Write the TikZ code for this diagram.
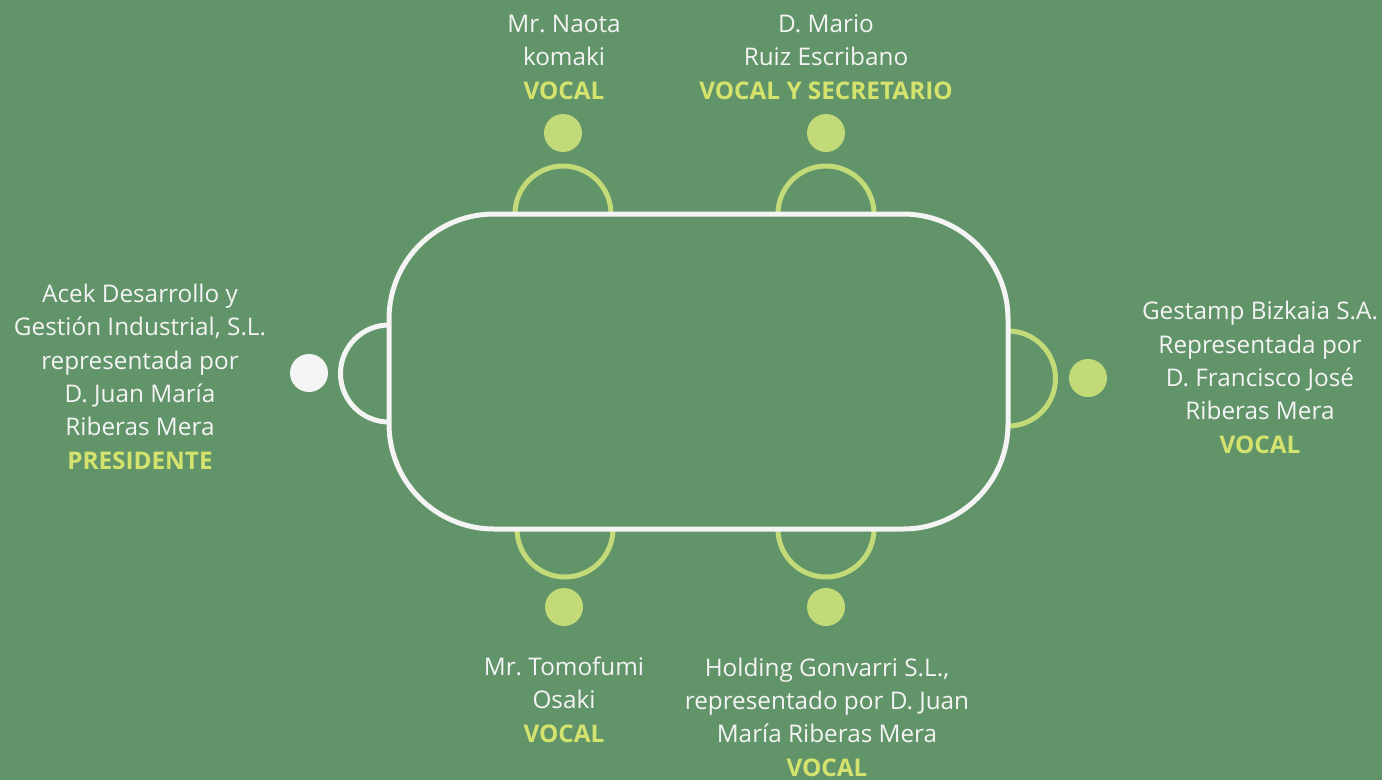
\documentclass[tikz,border=0pt]{standalone}
\usepackage{fontspec}
\setmainfont{Open Sans}
\frenchspacing
\definecolor{bg}{HTML}{62946A}
\definecolor{chair}{HTML}{C2DA78}
\definecolor{role}{HTML}{D4E36D}
\definecolor{wht}{HTML}{F4F4F4}
\tikzset{
  tablebox/.style={draw=wht, line width=5pt, rounded corners=105pt, minimum width=619pt, minimum height=315pt, inner sep=0pt},
  chairarc/.style={draw=chair, line width=5pt},
  headdot/.style={circle, fill=chair, minimum size=38pt, inner sep=0pt},
  label/.style={text=wht, align=center, anchor=base, inner sep=0pt, font=\fontsize{24.3}{33.3}\selectfont},
}
\newcommand{\rolename}[1]{\textcolor{role}{\bfseries #1}}
\begin{document}
\begin{tikzpicture}[x=1pt,y=-1pt]
\fill[bg] (0,0) rectangle (1382,780);
\useasboundingbox (0,0) rectangle (1382,780);
% chairs
\draw[chairarc] (515,214) arc (180:360:48);
\draw[chairarc] (778,214) arc (180:360:48);
\draw[chairarc] (517,529) arc (180:0:48);
\draw[chairarc] (778,529) arc (180:0:48);
\draw[chairarc, draw=wht] (389,325) arc (270:90:48.5);
\draw[chairarc] (1008,331) arc (-90:90:47.5);
% table
\node[tablebox] (table) at (698.5,371.5) {};
% heads
\node[headdot] (h1) at (563,133) {};
\node[headdot] (h2) at (826,133) {};
\node[headdot] (h3) at (564,607) {};
\node[headdot] (h4) at (826,607) {};
\node[headdot, fill=wht] (h5) at (309,373) {};
\node[headdot] (h6) at (1088,378) {};
% labels (anchored at the baseline of their last line)
\node[label] (l1) at (564,99) {Mr. Naota\\komaki\\\rolename{VOCAL}};
\node[label] (l2) at (826,99) {D. Mario\\Ruiz Escribano\\\rolename{VOCAL Y SECRETARIO}};
\node[label] (l3) at (564,742) {Mr. Tomofumi\\Osaki\\\rolename{VOCAL}};
\node[label] (l4) at (827,776) {Holding Gonvarri S.L.,\\representado por D. Juan\\María Riberas Mera\\\rolename{VOCAL}};
\node[label] (l5) at (140,469) {Acek Desarrollo y\\Gestión Industrial, S.L.\\representada por\\D. Juan María\\Riberas Mera\\\rolename{PRESIDENTE}};
\node[label] (l6) at (1260,453) {Gestamp Bizkaia S.A.\\Representada por\\D. Francisco José\\Riberas Mera\\\rolename{VOCAL}};
\end{tikzpicture}
\end{document}
